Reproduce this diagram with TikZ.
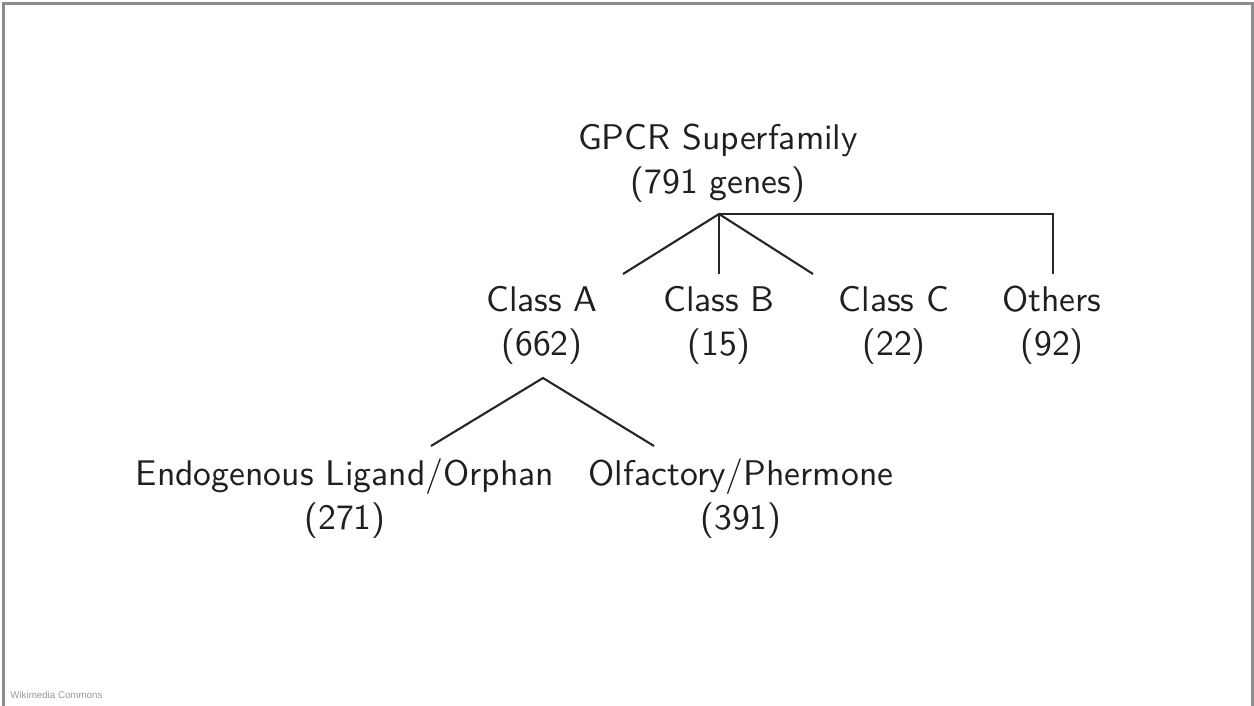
\documentclass[tikz,border=0pt]{standalone}
\usepackage{fontspec}
\newfontfamily\treefont{lmsans10-regular.otf}
\newfontfamily\wikifont{Liberation Sans}
\usetikzlibrary{positioning}

\tikzset{
  taxon/.style={align=center, inner sep=0pt, text=black!88,
    font=\treefont\fontsize{20.3}{25.04}\selectfont},
  branch/.style={line width=1.2pt, draw=black!85},
}

\begin{document}
\begin{tikzpicture}[x=0.02cm, y=-0.02cm]
		\useasboundingbox (0,0) rectangle (1254,706);
		
		% Frame
		\draw[line width=1.5pt, gray!90] (3.5,706) -- (3.5,3.5) -- (1252.5,3.5) -- (1252.5,706);
		\node[anchor=base west, inner sep=0pt, text=gray!80, font=\wikifont\fontsize{5.55}{6}\selectfont] (credit) at (10,698) {Wikimedia Commons};
		
		% Families
		\node[taxon] (root) at (718,163) {GPCR Superfamily\\(791 genes)};
		\node[taxon] (classA) at (542,325) {Class A\\(662)};
		\node[taxon] (classB) at (719,325) {Class B\\(15)};
		\node[taxon] (classC) at (894,325) {Class C\\(22)};
		\node[taxon] (others) at (1052,325) {Others\\(92)};
		\node[taxon] (endo) at (345,498.5) {Endogenous Ligand/Orphan\\(271)};
		\node[taxon] (olf) at (741,498.5) {Olfactory/Phermone\\(391)};
		
		% Branch points
		\coordinate (rootfork) at (719,214);
		\coordinate (toA) at (623,274);
		\coordinate (toB) at (719,274);
		\coordinate (toC) at (813,274);
		\coordinate (toOthers) at (1053,274);
		\coordinate (forkA) at (543,378);
		\coordinate (toEndo) at (431,446);
		\coordinate (toOlf) at (654,446);
		
		\draw[branch] (toA) -- (rootfork) -- (toC);
		\draw[branch] (rootfork) -- (toB);
		\draw[branch] (rootfork) -| (toOthers);
		\draw[branch] (toEndo) -- (forkA) -- (toOlf);
	\end{tikzpicture}
\end{document}
